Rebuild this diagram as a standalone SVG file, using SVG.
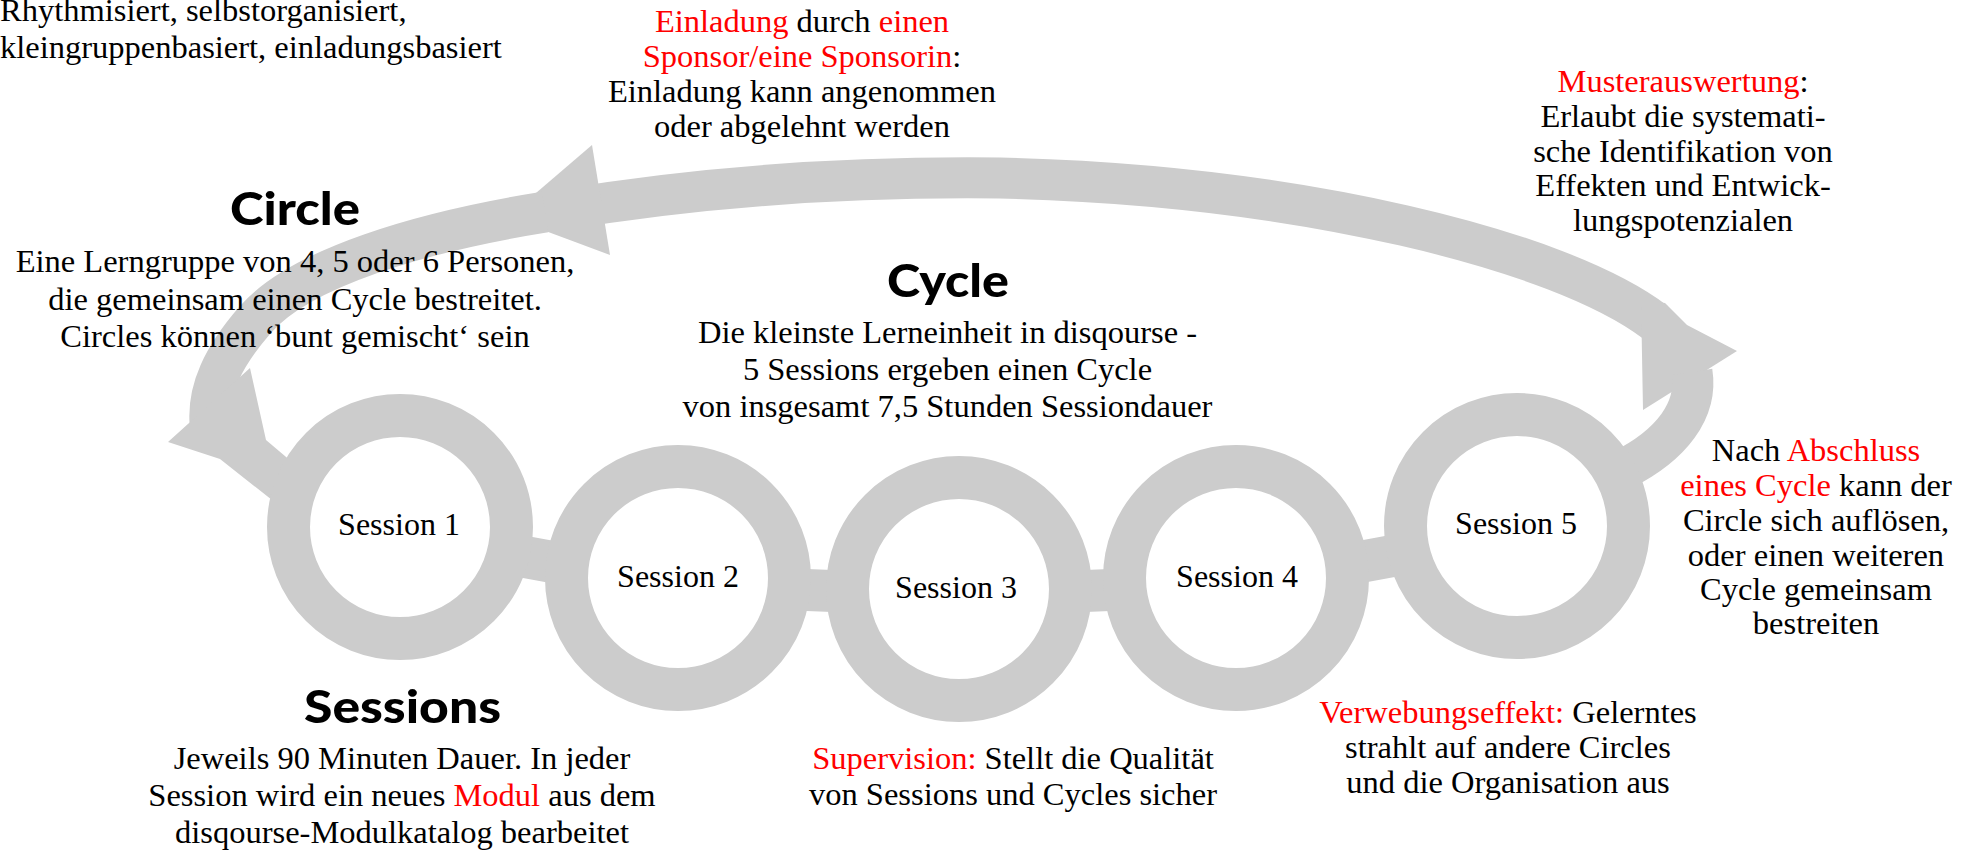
<svg xmlns="http://www.w3.org/2000/svg" width="1975" height="852" viewBox="0 0 1975 852">
<style>
.g{fill:#cccccc}
.band{fill:none;stroke:#cccccc;stroke-width:41}
.bar{fill:none;stroke:#cccccc;stroke-width:42;stroke-linejoin:round}
.ring{fill:#ffffff;stroke:#cccccc;stroke-width:43}
.t{font-family:"Liberation Serif","Times New Roman",serif;font-size:32.5px;fill:#000000}
.s{font-family:"Liberation Serif","Times New Roman",serif;font-size:32px;fill:#000000;text-anchor:middle}
.c{text-anchor:middle}
.r{fill:#ff0000}
.h{font-family:Lato,"Noto Sans",sans-serif;font-weight:900;font-size:46px;fill:#000000;text-anchor:middle}
</style>
<rect width="1975" height="852" fill="#ffffff"/>
<g id="connectors">
  <path class="band" d="M 1655,322 C 1560,250 1300,185 1000,178 C 820,176 680,190 560,210"/>
  <polygon class="g" points="1641,300 1665,303 1687,325 1737,351 1643,410"/>
  <path class="band" d="M 1622,470 C 1672,445 1698,410 1692,372"/>
  <polygon class="g" points="592,145 610,255 508,217"/>
  <path class="band" d="M 545,212 C 420,232 300,268 255,320 C 222,358 208,390 210,422"/>
  <polygon class="g" points="168,442 250,368 266,440 292,462 272,500 220,459"/>
  <polyline class="bar" points="400,534 678,585 960,596 1236,585 1517,533"/>
</g>
<g id="session1">
  <circle class="ring" cx="400" cy="527" r="111.5"/>
  <text class="s" x="399" y="535">Session 1</text>
</g>
<g id="session2">
  <circle class="ring" cx="678" cy="578" r="111.5"/>
  <text class="s" x="678" y="587">Session 2</text>
</g>
<g id="session3">
  <circle class="ring" cx="959" cy="589" r="111.5"/>
  <text class="s" x="956" y="598">Session 3</text>
</g>
<g id="session4">
  <circle class="ring" cx="1236" cy="578" r="111.5"/>
  <text class="s" x="1237" y="587">Session 4</text>
</g>
<g id="session5">
  <circle class="ring" cx="1517" cy="526" r="111.5"/>
  <text class="s" x="1516" y="534">Session 5</text>
</g>
<g id="intro">
  <text class="t" x="0" y="21">Rhythmisiert, selbstorganisiert,</text>
  <text class="t" x="0" y="58">kleingruppenbasiert, einladungsbasiert</text>
</g>
<g id="einladung">
  <text class="t c" x="802" y="32"><tspan class="r">Einladung</tspan> durch <tspan class="r">einen</tspan></text>
  <text class="t c" x="802" y="67"><tspan class="r">Sponsor/eine Sponsorin</tspan>:</text>
  <text class="t c" x="802" y="102">Einladung kann angenommen</text>
  <text class="t c" x="802" y="137">oder abgelehnt werden</text>
</g>
<g id="circle-info">
  <text class="h" x="295" y="225" textLength="130" lengthAdjust="spacingAndGlyphs">Circle</text>
  <text class="t c" x="295" y="272">Eine Lerngruppe von 4, 5 oder 6 Personen,</text>
  <text class="t c" x="295" y="309.5">die gemeinsam einen Cycle bestreitet.</text>
  <text class="t c" x="295" y="347">Circles können ‘bunt gemischt‘ sein</text>
</g>
<g id="cycle-info">
  <text class="h" x="948" y="297" textLength="122" lengthAdjust="spacingAndGlyphs">Cycle</text>
  <text class="t c" x="947.5" y="343">Die kleinste Lerneinheit in disqourse -</text>
  <text class="t c" x="947.5" y="380">5 Sessions ergeben einen Cycle</text>
  <text class="t c" x="947.5" y="417">von insgesamt 7,5 Stunden Sessiondauer</text>
</g>
<g id="musterauswertung">
  <text class="t c" x="1683" y="92"><tspan class="r">Musterauswertung</tspan>:</text>
  <text class="t c" x="1683" y="127">Erlaubt die systemati-</text>
  <text class="t c" x="1683" y="161.5">sche Identifikation von</text>
  <text class="t c" x="1683" y="196">Effekten und Entwick-</text>
  <text class="t c" x="1683" y="230.5">lungspotenzialen</text>
</g>
<g id="abschluss">
  <text class="t c" x="1816" y="461">Nach <tspan class="r">Abschluss</tspan></text>
  <text class="t c" x="1816" y="496"><tspan class="r">eines Cycle</tspan> kann der</text>
  <text class="t c" x="1816" y="531">Circle sich auflösen,</text>
  <text class="t c" x="1816" y="565.5">oder einen weiteren</text>
  <text class="t c" x="1816" y="600">Cycle gemeinsam</text>
  <text class="t c" x="1816" y="634">bestreiten</text>
</g>
<g id="sessions-info">
  <text class="h" x="402.5" y="723" textLength="197" lengthAdjust="spacingAndGlyphs">Sessions</text>
  <text class="t c" x="402" y="769">Jeweils 90 Minuten Dauer. In jeder</text>
  <text class="t c" x="402" y="806">Session wird ein neues <tspan class="r">Modul</tspan> aus dem</text>
  <text class="t c" x="402" y="843">disqourse-Modulkatalog bearbeitet</text>
</g>
<g id="supervision">
  <text class="t c" x="1013" y="769"><tspan class="r">Supervision:</tspan> Stellt die Qualität</text>
  <text class="t c" x="1013" y="805">von Sessions und Cycles sicher</text>
</g>
<g id="verwebung">
  <text class="t c" x="1508" y="723"><tspan class="r">Verwebungseffekt:</tspan> Gelerntes</text>
  <text class="t c" x="1508" y="758">strahlt auf andere Circles</text>
  <text class="t c" x="1508" y="793">und die Organisation aus</text>
</g>
</svg>
